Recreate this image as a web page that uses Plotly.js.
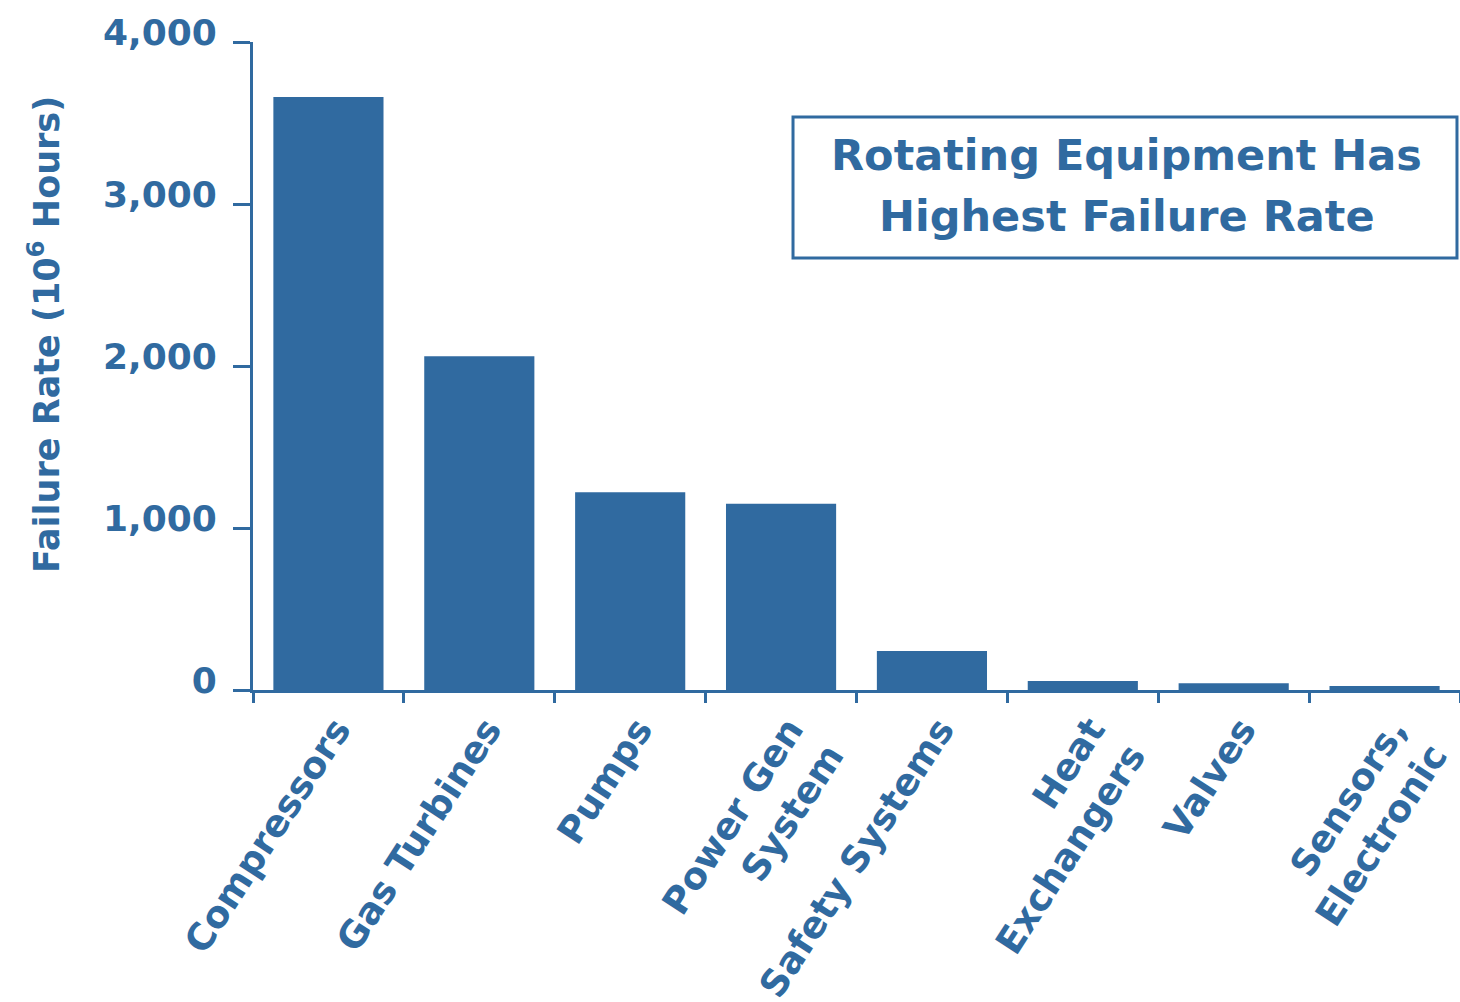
<!DOCTYPE html>
<html>
<head>
<meta charset="utf-8">
<script src="https://cdn.plot.ly/plotly-3.0.1.min.js"></script>
<style>
  html, body { margin: 0; padding: 0; background: #ffffff; }
  #chart { width: 1460px; height: 1002px; }
</style>
</head>
<body>
<div id="chart"></div>
<script>
// Equipment categories and their failure rates (per 10^6 hours)
const categories = [
  'Compressors',
  'Gas Turbines',
  'Pumps',
  'Power Gen<br>System',
  'Safety Systems',
  'Heat<br>Exchangers',
  'Valves',
  'Sensors,<br>Electronic'
];
const failureRates = [3660, 2060, 1220, 1150, 240, 55, 42, 25];
const yTickValues = [0, 1000, 2000, 3000, 4000];

const BLUE = '#306aa0';
const FONT = 'DejaVu Sans, Arial, sans-serif';

const trace = {
  type: 'bar',
  x: categories,
  y: failureRates,
  width: 0.73,
  marker: { color: BLUE, line: { width: 0 } },
  hoverinfo: 'x+y'
};

const layout = {
  width: 1460,
  height: 1002,
  margin: { l: 253, r: 0, t: 42, b: 312 },
  paper_bgcolor: '#ffffff',
  plot_bgcolor: '#ffffff',
  showlegend: false,
  font: { family: FONT, color: BLUE, weight: 'bold' },
  xaxis: {
    type: 'category',
    showline: true,
    linecolor: BLUE,
    linewidth: 3,
    ticks: 'outside',
    tickson: 'boundaries',
    ticklen: 10,
    tickwidth: 3,
    tickcolor: BLUE,
    tickangle: -57,
    ticklabelshift: 8,
    tickfont: { family: FONT, size: 37, color: BLUE, weight: 'bold' },
    showgrid: false,
    zeroline: false
  },
  yaxis: {
    range: [0, 4000],
    tickvals: yTickValues,
    tickformat: ',d',
    showline: true,
    linecolor: BLUE,
    linewidth: 3,
    ticks: 'outside',
    ticklen: 17,
    tickwidth: 3,
    tickcolor: BLUE,
    ticklabelstandoff: 9,
    ticklabelshift: -10,
    tickfont: { family: FONT, size: 36, color: BLUE, weight: 'bold' },
    showgrid: false,
    zeroline: false
  },
  shapes: [
    // frame around the headline
    {
      type: 'rect',
      xref: 'paper', yref: 'paper',
      x0: 0.4474, x1: 0.9975,
      y0: 0.6667, y1: 0.8843,
      line: { color: BLUE, width: 3 },
      fillcolor: 'rgba(0,0,0,0)'
    }
  ],
  annotations: [
    // y-axis title
    {
      xref: 'paper', yref: 'paper',
      x: 0, y: 0.548,
      xshift: -209,
      xanchor: 'center', yanchor: 'middle',
      textangle: -90,
      text: 'Failure Rate (10<sup>6</sup> Hours)',
      showarrow: false,
      font: { family: FONT, size: 35, color: BLUE, weight: 'bold' }
    },
    {
      xref: 'paper', yref: 'paper',
      x: 0.724, y: 0.8256,
      xanchor: 'center', yanchor: 'middle',
      text: 'Rotating Equipment Has',
      showarrow: false,
      font: { family: FONT, size: 43, color: BLUE, weight: 'bold' }
    },
    {
      xref: 'paper', yref: 'paper',
      x: 0.724, y: 0.7315,
      xanchor: 'center', yanchor: 'middle',
      text: 'Highest Failure Rate',
      showarrow: false,
      font: { family: FONT, size: 43, color: BLUE, weight: 'bold' }
    }
  ]
};

Plotly.newPlot('chart', [trace], layout, { displayModeBar: false, staticPlot: true });
</script>
</body>
</html>
